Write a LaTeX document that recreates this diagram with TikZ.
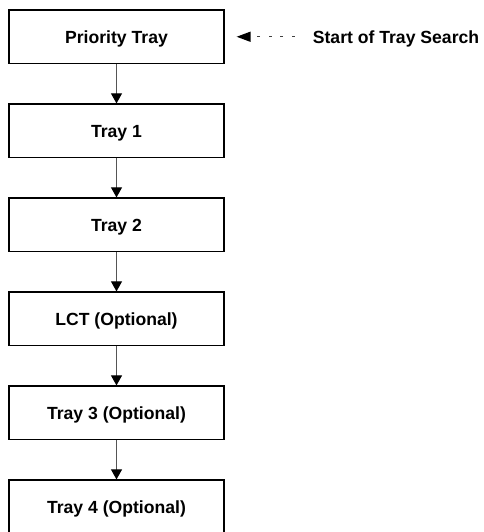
\documentclass[tikz,border=0pt]{standalone}
\usepackage{fontspec}
\setmainfont{Liberation Sans}
\usetikzlibrary{arrows.meta}
\definecolor{linegray}{RGB}{85,85,85}
\begin{document}
\begin{tikzpicture}[x=0.75pt,y=-0.75pt,
  tray/.style={draw=black,line width=0.9pt,fill=white,minimum width=161.25pt,minimum height=40.1pt,
    inner sep=0pt,font=\fontsize{13.2}{15}\selectfont\bfseries,text height=9.4pt,text depth=0pt},
  lbl/.style={inner sep=0pt,font=\fontsize{13.2}{15}\selectfont\bfseries,text height=9.4pt,text depth=0pt},
  flow/.style={draw=linegray,line width=0.8pt,-{Triangle[length=7.5pt,width=8.2pt,color=black]}},
  searchdots/.style={draw=black!75,line width=1.1pt,dash pattern=on 2.2pt off 6.4pt,
    shorten <=13.5pt,shorten >=9pt,-{Triangle[length=10.5pt,width=7.5pt,color=black]}}]
\useasboundingbox (0,0) rectangle (484,532);
\node[tray] (p)  at (116.5,36.75)  {Priority Tray};
\node[tray] (t1) at (116.5,130.75) {Tray 1};
\node[tray] (t2) at (116.5,224.75) {Tray 2};
\node[tray] (lct) at (116.5,318.75) {LCT (Optional)};
\node[tray] (t3) at (116.5,412.75) {Tray 3 (Optional)};
\node[tray] (t4) at (116.5,506.75) {Tray 4 (Optional)};
\draw[flow] (p) -- (t1);
\draw[flow] (t1) -- (t2);
\draw[flow] (t2) -- (lct);
\draw[flow] (lct) -- (t3);
\draw[flow] (t3) -- (t4);
\node[lbl,anchor=west] (s) at ([xshift=66pt]p.east) {Start of Tray Search};
\draw[searchdots] (s.west) -- (p.east);
\end{tikzpicture}
\end{document}
